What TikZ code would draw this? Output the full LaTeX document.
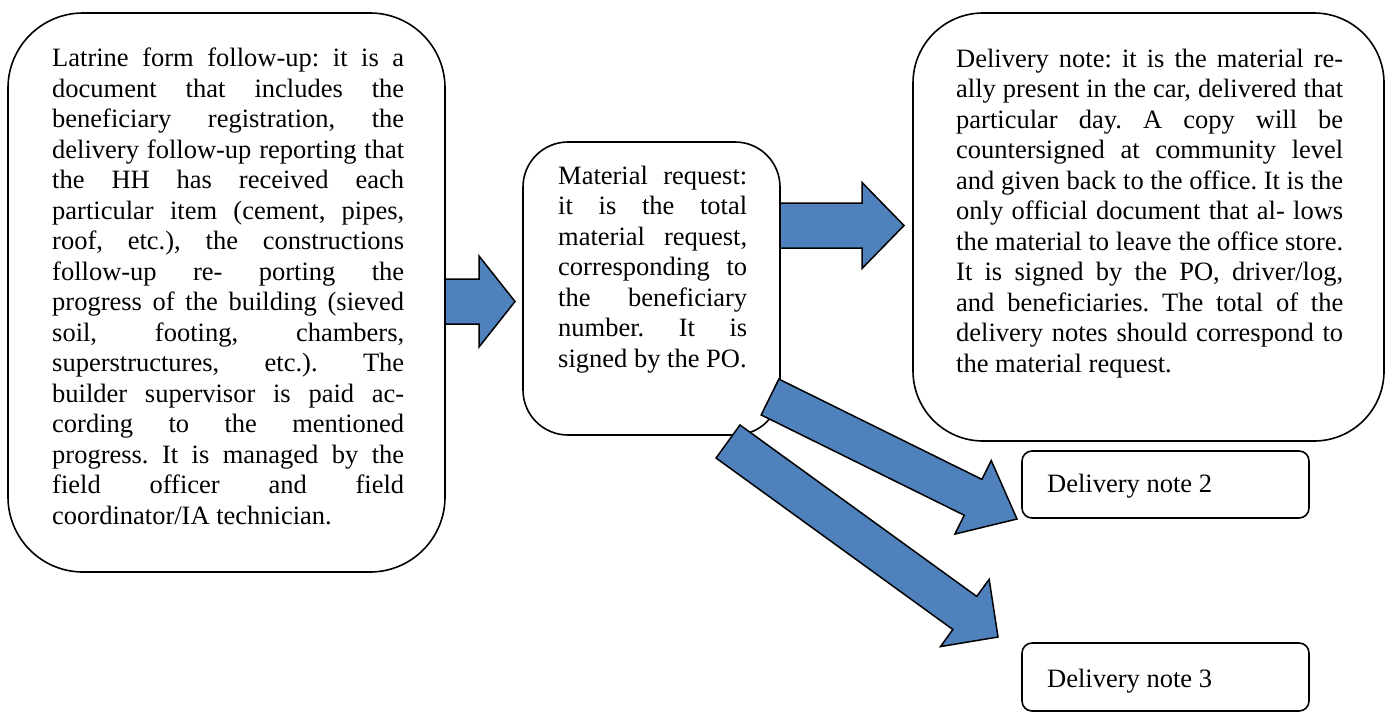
\documentclass[tikz,border=0pt]{standalone}
\usepackage{fontspec}
\setmainfont{Liberation Serif}
\usetikzlibrary{calc}
\definecolor{arrowblue}{HTML}{4F81BD}
\tikzset{
  box/.style={draw=black, line width=1.6pt, fill=white, rectangle, inner sep=0pt},
  txt/.style={inner sep=0pt, anchor=base west, align=justify,
    font=\fontsize{26.5}{30.5}\selectfont},
  lbl/.style={inner sep=0pt, anchor=base west, font=\fontsize{26.5}{30.5}\selectfont},
  barrow/.style={draw=black, line width=1.5pt, fill=arrowblue, line join=miter},
}
\newcommand\blockarrow[6]{%
  \coordinate (#1h) at ($(#3)!#6!(#2)$);
  \filldraw[barrow] ($(#2)!#4!90:(#3)$) -- ($(#1h)!#4!90:(#3)$) -- ($(#1h)!#5!90:(#3)$) -- (#3)
    -- ($(#1h)!#5!-90:(#3)$) -- ($(#1h)!#4!-90:(#3)$) -- ($(#2)!#4!-90:(#3)$) -- cycle;
}
\begin{document}
\frenchspacing
\tolerance=10000\relax
\hbadness=10000\relax
\hyphenpenalty=10000\relax
\exhyphenpenalty=10000\relax
\begin{tikzpicture}[x=1pt, y=-1pt]
\useasboundingbox (0,0) rectangle (1388,713);
% boxes
\node[box, rounded corners=75pt, minimum width=437pt, minimum height=559pt] (box1) at (226.5,292.5) {};
\node[box, rounded corners=45pt, minimum width=257pt, minimum height=293pt] (box2) at (651.5,288.5) {};
\node[box, rounded corners=70pt, minimum width=471pt, minimum height=428pt] (box3) at (1148.5,227) {};
\node[box, rounded corners=10pt, minimum width=287pt, minimum height=67pt] (dn2) at (1165.5,484.5) {};
\node[box, rounded corners=10pt, minimum width=287pt, minimum height=68pt] (dn3) at (1165.5,677) {};
% texts
\node[txt, text width=352pt] (t1) at (52,66.5) {Latrine form follow-up: it is a\linebreak
document that includes the\linebreak
beneficiary registration, the\linebreak
delivery follow-up reporting that\linebreak
the HH has received each\linebreak
particular item (cement, pipes,\linebreak
roof, etc.), the constructions\linebreak
follow-up re- porting the\linebreak
progress of the building (sieved\linebreak
soil, footing, chambers,\linebreak
superstructures, etc.). The\linebreak
builder supervisor is paid ac-\linebreak
cording to the mentioned\linebreak
progress. It is managed by the\linebreak
field officer and field\linebreak
coordinator/IA technician.};
\node[txt, text width=189pt] (t2) at (558,184) {Material request:\linebreak
it is the total\linebreak
material request,\linebreak
corresponding to\linebreak
the beneficiary\linebreak
number. It is\linebreak
signed by the PO.};
\node[txt, text width=387pt] (t3) at (956,67) {Delivery note: it is the material re-\linebreak
ally present in the car, delivered that\linebreak
particular day. A copy will be\linebreak
countersigned at community level\linebreak
and given back to the office. It is the\linebreak
only official document that al- lows\linebreak
the material to leave the office store.\linebreak
It is signed by the PO, driver/log,\linebreak
and beneficiaries. The total of the\linebreak
delivery notes should correspond to\linebreak
the material request.};
\node[lbl] (t4) at (1047,492) {Delivery note 2};
\node[lbl] (t5) at (1047,687) {Delivery note 3};
% arrows
\coordinate (a1s) at (445,301.5);
\coordinate (a1e) at (515,301.5);
\coordinate (a2s) at (780,225.5);
\coordinate (a2e) at (904,225.5);
\coordinate (a3s) at (770,397);
\coordinate (a3e) at (1017,519);
\coordinate (a4s) at (728,441.5);
\coordinate (a4e) at (998,637);
\blockarrow{a1}{a1s}{a1e}{22.5pt}{45.5pt}{36pt}
\blockarrow{a2}{a2s}{a2e}{22.5pt}{43pt}{42pt}
\blockarrow{a3}{a3s}{a3e}{20pt}{41pt}{49pt}
\blockarrow{a4}{a4s}{a4e}{20.4pt}{41.5pt}{41pt}
\end{tikzpicture}
\end{document}
